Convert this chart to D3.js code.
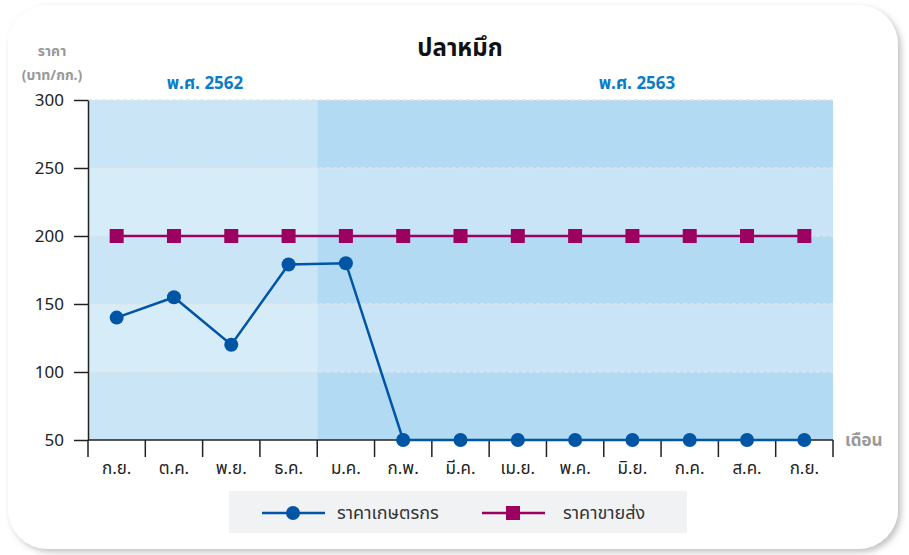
<!DOCTYPE html>
<html>
<head>
<meta charset="utf-8">
<script src="https://cdn.jsdelivr.net/npm/d3@7"></script>
<style>
  body { margin: 0; background: #ffffff; }
  svg { display: block; font-family: "Noto Sans Thai", "Noto Sans", sans-serif; }
</style>
</head>
<body>
<div id="chart"></div>
<script>
// months (Thai abbreviations), Sep 2562 - Sep 2563
var months = ["ก.ย.", "ต.ค.", "พ.ย.", "ธ.ค.", "ม.ค.", "ก.พ.", "มี.ค.", "เม.ย.", "พ.ค.", "มิ.ย.", "ก.ค.", "ส.ค.", "ก.ย."];
var farmerPrice = [140, 155, 120, 179, 180, 50, 50, 50, 50, 50, 50, 50, 50];
var wholesalePrice = [200, 200, 200, 200, 200, 200, 200, 200, 200, 200, 200, 200, 200];
var yTicks = [50, 100, 150, 200, 250, 300];
var years = [{label: "พ.ศ. 2562", from: 0, to: 3, lx: 205}, {label: "พ.ศ. 2563", from: 4, to: 12, lx: 637}];
var seriesNames = ["ราคาเกษตรกร", "ราคาขายส่ง"];

var width = 909, height = 555;
var margin = {left: 88, right: 76, top: 100, bottom: 115};

var svg = d3.select("#chart").append("svg")
  .attr("width", width)
  .attr("height", height);

var defs = svg.append("defs");
var filt = defs.append("filter").attr("id", "shadow")
  .attr("x", "-5%").attr("y", "-5%").attr("width", "110%").attr("height", "110%");
filt.append("feDropShadow").attr("dx", 3).attr("dy", 3).attr("stdDeviation", 3)
  .attr("flood-color", "#000").attr("flood-opacity", 0.25);

// card
svg.append("rect")
  .attr("x", 8).attr("y", 5).attr("width", 890).attr("height", 544)
  .attr("rx", 40).attr("ry", 40)
  .attr("fill", "#fff")
  .attr("filter", "url(#shadow)");

var x = d3.scaleBand().domain(d3.range(months.length))
  .range([margin.left, width - margin.right]);
var y = d3.scaleLinear().domain([50, 300]).range([height - margin.bottom, margin.top]);

// background bands per year and per 50
var bandColors = [
  ["#c9e5f6", "#d7ecf9"],  // 2562: dark, light
  ["#b2daf2", "#c8e4f6"]   // 2563
];
years.forEach(function(yr, i) {
  var x0 = x(yr.from), x1 = x(yr.to) + x.bandwidth();
  for (var k = 0; k < 5; k++) {
    var top = 300 - k * 50;
    svg.append("rect")
      .attr("x", x0).attr("width", x1 - x0)
      .attr("y", y(top)).attr("height", y(top - 50) - y(top))
      .attr("fill", bandColors[i][k % 2]);
  }
});

// grid lines
svg.append("g").selectAll("line")
  .data(yTicks.slice(1))
  .join("line")
  .attr("x1", x(0)).attr("x2", x(12) + x.bandwidth())
  .attr("y1", function(d) { return y(d); }).attr("y2", function(d) { return y(d); })
  .attr("stroke", "#e3e3e3").attr("stroke-width", 1.5)
  .attr("stroke-dasharray", "4,3");

// y axis
var yAxis = svg.append("g")
  .attr("transform", "translate(" + margin.left + ",0)")
  .call(d3.axisLeft(y).tickValues(yTicks).tickSize(14).tickPadding(10).tickSizeOuter(0));
yAxis.select(".domain").attr("stroke", "#222").attr("stroke-width", 1.5);
yAxis.selectAll(".tick line").attr("stroke", "#222").attr("stroke-width", 1.5);
yAxis.selectAll("text").attr("font-size", 17).attr("fill", "#222")
  .attr("font-weight", "normal")
  .attr("font-family", "'Noto Sans Thai', 'Noto Sans', sans-serif");

// x axis
var xb = d3.range(months.length + 1).map(function(i) {
  return i < months.length ? x(i) : x(i - 1) + x.bandwidth();
});
var xAxisG = svg.append("g");
xAxisG.append("line")
  .attr("x1", xb[0]).attr("x2", xb[xb.length - 1])
  .attr("y1", y(50)).attr("y2", y(50))
  .attr("stroke", "#222").attr("stroke-width", 1.5);
xAxisG.selectAll(".xt").data(xb).join("line")
  .attr("x1", function(d) { return d; }).attr("x2", function(d) { return d; })
  .attr("y1", y(50)).attr("y2", y(50) + 17)
  .attr("stroke", "#222").attr("stroke-width", 1.5);
xAxisG.selectAll("text").data(months).join("text")
  .attr("x", function(d, i) { return x(i) + x.bandwidth() / 2; })
  .attr("y", y(50) + 34)
  .attr("text-anchor", "middle")
  .attr("font-size", 17).attr("fill", "#222")
  .text(function(d) { return d; });

// lines
var line = d3.line()
  .x(function(d, i) { return x(i) + x.bandwidth() / 2; })
  .y(function(d) { return y(d); });

svg.append("path").datum(wholesalePrice)
  .attr("d", line).attr("fill", "none")
  .attr("stroke", "#9c0060").attr("stroke-width", 2.5);
svg.append("path").datum(farmerPrice)
  .attr("d", line).attr("fill", "none")
  .attr("stroke", "#0055a5").attr("stroke-width", 2.5);

svg.append("g").selectAll("rect").data(wholesalePrice).join("rect")
  .attr("x", function(d, i) { return x(i) + x.bandwidth() / 2 - 7; })
  .attr("y", function(d) { return y(d) - 7; })
  .attr("width", 14).attr("height", 14)
  .attr("fill", "#9c0060");
svg.append("g").selectAll("circle").data(farmerPrice).join("circle")
  .attr("cx", function(d, i) { return x(i) + x.bandwidth() / 2; })
  .attr("cy", function(d) { return y(d); })
  .attr("r", 7)
  .attr("fill", "#0055a5");

// titles
svg.append("text")
  .attr("x", 460).attr("y", 56)
  .attr("text-anchor", "middle")
  .attr("font-size", 24).attr("font-weight", "bold").attr("fill", "#111")
  .text("ปลาหมึก");

svg.selectAll(".yr").data(years).join("text")
  .attr("x", function(d) { return d.lx; })
  .attr("y", 89)
  .attr("text-anchor", "middle")
  .attr("font-size", 17).attr("font-weight", "bold").attr("fill", "#0a7cc8")
  .text(function(d) { return d.label; });

svg.append("text")
  .attr("x", 52).attr("y", 56)
  .attr("text-anchor", "middle")
  .attr("font-size", 14).attr("font-weight", "bold").attr("fill", "#999")
  .text("ราคา");
svg.append("text")
  .attr("x", 52).attr("y", 80)
  .attr("text-anchor", "middle")
  .attr("font-size", 14).attr("font-weight", "bold").attr("fill", "#999")
  .text("(บาท/กก.)");
svg.append("text")
  .attr("x", 845).attr("y", 446)
  .attr("font-size", 17).attr("font-weight", "bold").attr("fill", "#999")
  .text("เดือน");

// legend
var lg = svg.append("g");
lg.append("rect")
  .attr("x", 229).attr("y", 491).attr("width", 458).attr("height", 42)
  .attr("fill", "#f0f2f4");
var items = [
  {name: seriesNames[0], color: "#0055a5", shape: "circle", x0: 262, tx: 337},
  {name: seriesNames[1], color: "#9c0060", shape: "square", x0: 482, tx: 563}
];
items.forEach(function(it) {
  var cy = 513;
  lg.append("line")
    .attr("x1", it.x0).attr("x2", it.x0 + 63)
    .attr("y1", cy).attr("y2", cy)
    .attr("stroke", it.color).attr("stroke-width", 2.5);
  if (it.shape === "circle") {
    lg.append("circle").attr("cx", it.x0 + 31).attr("cy", cy).attr("r", 7).attr("fill", it.color);
  } else {
    lg.append("rect").attr("x", it.x0 + 24).attr("y", cy - 7).attr("width", 14).attr("height", 14).attr("fill", it.color);
  }
  lg.append("text")
    .attr("x", it.tx).attr("y", cy + 6)
    .attr("font-size", 18).attr("fill", "#333")
    .text(it.name);
});
</script>
</body>
</html>
